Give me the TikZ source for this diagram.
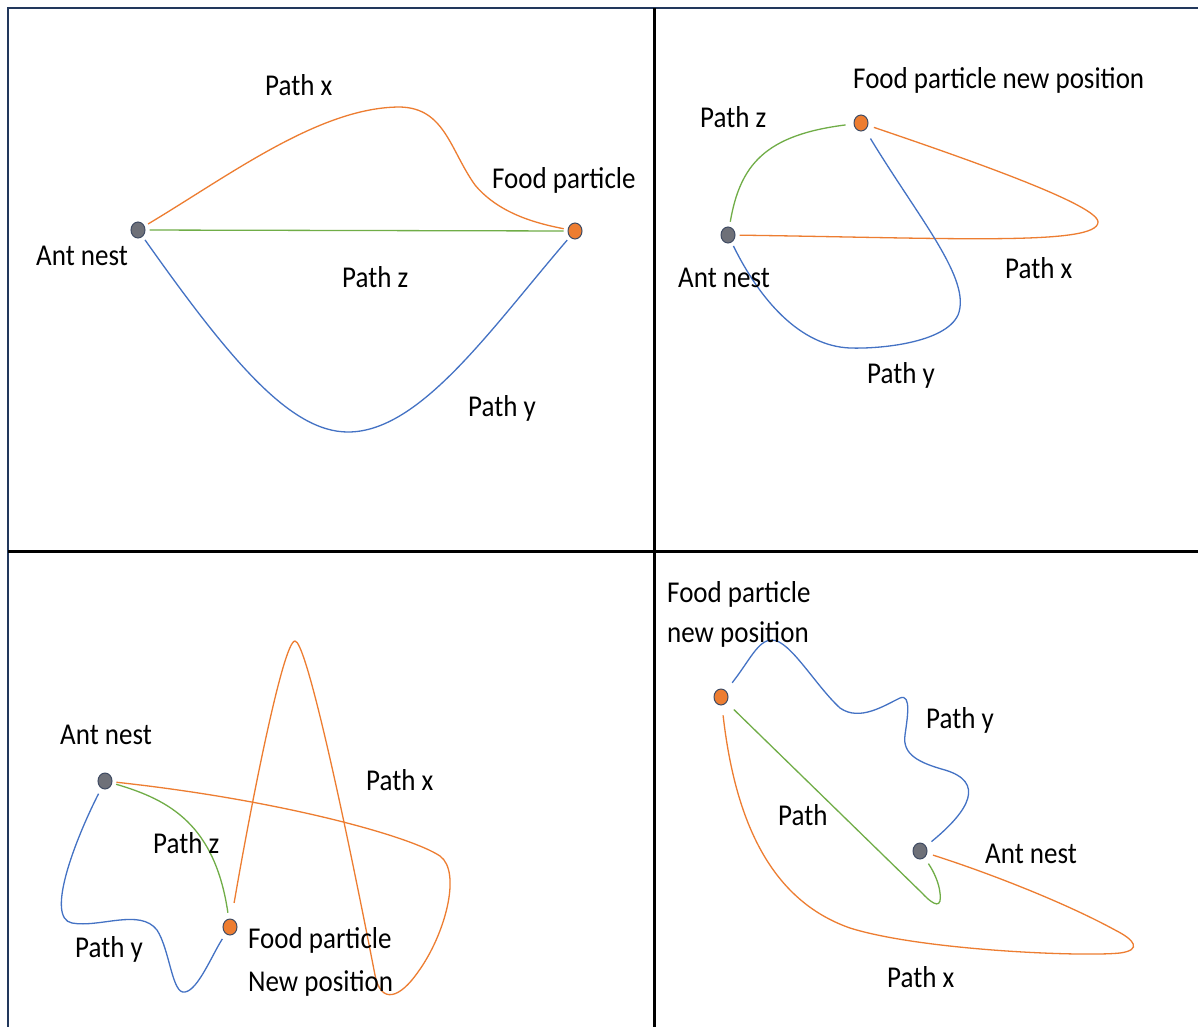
\documentclass[tikz,border=0pt]{standalone}
\usepackage{fontspec}
\setmainfont{Carlito}
\usetikzlibrary{shapes.geometric}
\definecolor{pathx}{HTML}{ED7D31}
\definecolor{pathy}{HTML}{4472C4}
\definecolor{pathz}{HTML}{70AD47}
\definecolor{nestgray}{HTML}{6E7078}
\definecolor{foodorange}{HTML}{ED7D31}
\definecolor{dotline}{HTML}{3F4B63}
\definecolor{frame}{HTML}{22385C}
\newcommand{\tall}[1]{\scalebox{1}[1.12]{#1}}
\begin{document}
\begin{tikzpicture}[x=1pt,y=-1pt,
  nest/.style={ellipse,draw=dotline,fill=nestgray,line width=1pt,
    minimum width=14pt,minimum height=16pt,inner sep=0pt},
  food/.style={nest,fill=foodorange},
  lbl/.style={anchor=base west,inner sep=0pt,text=black,
    font=\fontsize{27}{32}\selectfont},
  trail/.style={line width=1.3pt,shorten <=4pt,shorten >=4pt},
  px/.style={trail,draw=pathx},
  py/.style={trail,draw=pathy},
  pz/.style={trail,draw=pathz}]
\useasboundingbox (0,0) rectangle (1198,1026);
\fill[white] (0,0) rectangle (1198,1026);

% frame and quadrant dividers
\draw[frame,line width=2.5pt] (8,1030) -- (8,8) -- (1202,8);
\draw[black,line width=3pt] (654,8) -- (654,1030);
\draw[black,line width=3pt] (8,551) -- (1202,551);

% ---------- top left ----------
\node[nest] (n1) at (138,230) {};
\node[food] (f1) at (575,231) {};
\draw[px] (n1) .. controls (230,175) and (320,107) .. (400,107)
  .. controls (445,108) and (450,150) .. (475,185)
  .. controls (500,215) and (540,224) .. (f1);
\draw[pz] (n1) -- (f1);
\draw[py] (n1) .. controls (230,360) and (290,432) .. (348,432)
  .. controls (420,432) and (490,330) .. (f1);
\node[lbl] (t1x) at (265,95) {\tall{Path x}};
\node[lbl] (t1f) at (492,188) {\tall{Food particle}};
\node[lbl] (t1n) at (36,265) {\tall{Ant nest}};
\node[lbl] (t1z) at (342,287) {\tall{Path z}};
\node[lbl] (t1y) at (468,416) {\tall{Path y}};

% ---------- top right ----------
\node[nest] (n2) at (728,235) {};
\node[food] (f2) at (861,123) {};
\draw[pz,shorten <=5pt,shorten >=8pt] (n2) .. controls (740,165) and (765,135) .. (f2);
\draw[px,shorten <=6pt] (f2) .. controls (970,160) and (1098,205) .. (1098,222)
  .. controls (1098,246) and (950,238) .. (n2);
\draw[py,shorten <=10pt] (f2) .. controls (920,220) and (972,280) .. (958,315)
  .. controls (945,343) and (880,349) .. (850,348)
  .. controls (800,346) and (760,300) .. (n2);
\node[lbl] (t2f) at (853,88) {\tall{Food particle new position}};
\node[lbl] (t2z) at (700,127) {\tall{Path z}};
\node[lbl] (t2n) at (678,287) {\tall{Ant nest}};
\node[lbl] (t2x) at (1005,278) {\tall{Path x}};
\node[lbl] (t2y) at (867,383) {\tall{Path y}};

% ---------- bottom left ----------
\node[nest] (n3) at (105,781) {};
\node[food] (f3) at (230,927) {};
\draw[pz,shorten >=6pt] (n3) .. controls (170,800) and (215,825) .. (f3);
\draw[px,shorten <=16pt] (f3) .. controls (250,810) and (283,641) .. (295,641)
  .. controls (305,641) and (337,780) .. (375,975)
  .. controls (381,1005) and (400,998) .. (418,972)
  .. controls (445,935) and (462,872) .. (440,856)
  .. controls (410,836) and (280,800) .. (n3);
\draw[py,shorten <=6pt,shorten >=6pt] (n3) .. controls (75,840) and (45,918) .. (72,923)
  .. controls (100,928) and (140,908) .. (157,930)
  .. controls (170,950) and (172,995) .. (185,992)
  .. controls (198,990) and (212,955) .. (f3);
\node[lbl] (t3n) at (60,744) {\tall{Ant nest}};
\node[lbl] (t3x) at (366,790) {\tall{Path x}};
\node[lbl] (t3z) at (153,853) {\tall{Path z}};
\node[lbl] (t3y) at (75,957) {\tall{Path y}};
\node[lbl] (t3f) at (248,948) {\tall{Food particle}};
\node[lbl] (t3p) at (248,991) {\tall{New position}};

% ---------- bottom right ----------
\node[food] (f4) at (721,697) {};
\node[nest] (n4) at (920,851) {};
\draw[py,shorten <=10pt,shorten >=7pt] (f4) .. controls (750,660) and (758,640) .. (772,640)
  .. controls (790,640) and (815,685) .. (840,708)
  .. controls (860,722) and (885,705) .. (900,698)
  .. controls (912,693) and (907,720) .. (905,735)
  .. controls (902,755) and (920,763) .. (945,770)
  .. controls (985,782) and (970,810) .. (n4);
\draw[pz,shorten <=10pt,shorten >=7pt] (f4) -- (922,893) .. controls (935,907) and (942,908) .. (940,893)
  .. controls (939,883) and (934,872) .. (n4);
\draw[px,shorten <=10pt,shorten >=6pt] (f4) .. controls (735,820) and (770,900) .. (850,928)
  .. controls (920,950) and (1080,957) .. (1120,953)
  .. controls (1142,950) and (1135,940) .. (1115,930)
  .. controls (1060,900) and (980,870) .. (n4);
\node[lbl] (t4f) at (667,602) {\tall{Food particle}};
\node[lbl] (t4p) at (667,642) {\tall{new position}};
\node[lbl] (t4y) at (926,728) {\tall{Path y}};
\node[lbl] (t4z) at (778,825) {\tall{Path}};
\node[lbl] (t4n) at (985,863) {\tall{Ant nest}};
\node[lbl] (t4x) at (887,987) {\tall{Path x}};
\end{tikzpicture}
\end{document}
